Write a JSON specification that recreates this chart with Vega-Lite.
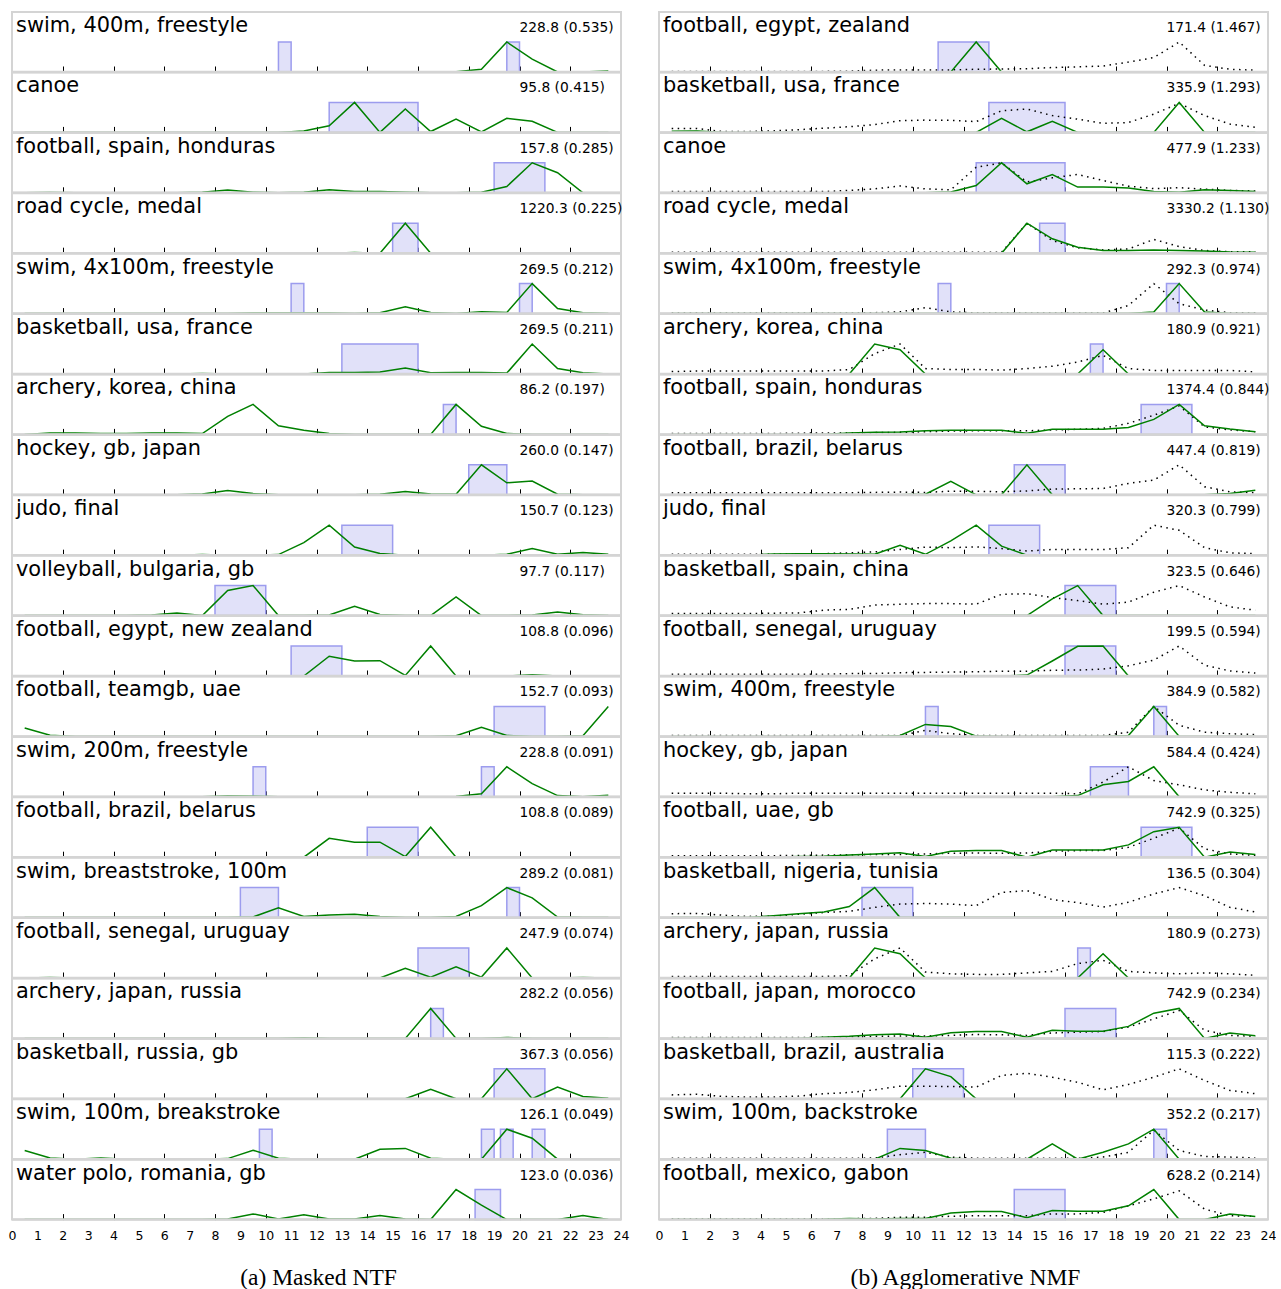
{
"$schema": "https://vega.github.io/schema/vega-lite/v6.json",
"padding": {"left": 8, "top": 11, "right": 0, "bottom": 0},
"config": {"view": {"stroke": "#d4d4d4", "strokeWidth": 2}, "concat": {"spacing": 26}, "axisX": {"labelOverlap": false, "labelFlush": false, "labelFont": "DejaVu Sans", "labelFontSize": 12.5, "labelColor": "black", "labelPadding": 6, "ticks": false, "domain": false, "gridColor": "black", "gridWidth": 1, "gridDash": [0, 54, 6, 0], "gridOpacity": 1}},
"datasets": {"all": [
{"m":"a","r":1,"t":"swim, 400m, freestyle","s":"228.8 (0.535)"},
{"m":"a","r":2,"t":"canoe","s":"95.8 (0.415)"},
{"m":"a","r":3,"t":"football, spain, honduras","s":"157.8 (0.285)"},
{"m":"a","r":4,"t":"road cycle, medal","s":"1220.3 (0.225)"},
{"m":"a","r":5,"t":"swim, 4x100m, freestyle","s":"269.5 (0.212)"},
{"m":"a","r":6,"t":"basketball, usa, france","s":"269.5 (0.211)"},
{"m":"a","r":7,"t":"archery, korea, china","s":"86.2 (0.197)"},
{"m":"a","r":8,"t":"hockey, gb, japan","s":"260.0 (0.147)"},
{"m":"a","r":9,"t":"judo, final","s":"150.7 (0.123)"},
{"m":"a","r":10,"t":"volleyball, bulgaria, gb","s":"97.7 (0.117)"},
{"m":"a","r":11,"t":"football, egypt, new zealand","s":"108.8 (0.096)"},
{"m":"a","r":12,"t":"football, teamgb, uae","s":"152.7 (0.093)"},
{"m":"a","r":13,"t":"swim, 200m, freestyle","s":"228.8 (0.091)"},
{"m":"a","r":14,"t":"football, brazil, belarus","s":"108.8 (0.089)"},
{"m":"a","r":15,"t":"swim, breaststroke, 100m","s":"289.2 (0.081)"},
{"m":"a","r":16,"t":"football, senegal, uruguay","s":"247.9 (0.074)"},
{"m":"a","r":17,"t":"archery, japan, russia","s":"282.2 (0.056)"},
{"m":"a","r":18,"t":"basketball, russia, gb","s":"367.3 (0.056)"},
{"m":"a","r":19,"t":"swim, 100m, breakstroke","s":"126.1 (0.049)"},
{"m":"a","r":20,"t":"water polo, romania, gb","s":"123.0 (0.036)"},
{"m":"b","r":1,"t":"football, egypt, zealand","s":"171.4 (1.467)"},
{"m":"b","r":2,"t":"basketball, usa, france","s":"335.9 (1.293)"},
{"m":"b","r":3,"t":"canoe","s":"477.9 (1.233)"},
{"m":"b","r":4,"t":"road cycle, medal","s":"3330.2 (1.130)"},
{"m":"b","r":5,"t":"swim, 4x100m, freestyle","s":"292.3 (0.974)"},
{"m":"b","r":6,"t":"archery, korea, china","s":"180.9 (0.921)"},
{"m":"b","r":7,"t":"football, spain, honduras","s":"1374.4 (0.844)"},
{"m":"b","r":8,"t":"football, brazil, belarus","s":"447.4 (0.819)"},
{"m":"b","r":9,"t":"judo, final","s":"320.3 (0.799)"},
{"m":"b","r":10,"t":"basketball, spain, china","s":"323.5 (0.646)"},
{"m":"b","r":11,"t":"football, senegal, uruguay","s":"199.5 (0.594)"},
{"m":"b","r":12,"t":"swim, 400m, freestyle","s":"384.9 (0.582)"},
{"m":"b","r":13,"t":"hockey, gb, japan","s":"584.4 (0.424)"},
{"m":"b","r":14,"t":"football, uae, gb","s":"742.9 (0.325)"},
{"m":"b","r":15,"t":"basketball, nigeria, tunisia","s":"136.5 (0.304)"},
{"m":"b","r":16,"t":"archery, japan, russia","s":"180.9 (0.273)"},
{"m":"b","r":17,"t":"football, japan, morocco","s":"742.9 (0.234)"},
{"m":"b","r":18,"t":"basketball, brazil, australia","s":"115.3 (0.222)"},
{"m":"b","r":19,"t":"swim, 100m, backstroke","s":"352.2 (0.217)"},
{"m":"b","r":20,"t":"football, mexico, gabon","s":"628.2 (0.214)"},
{"m":"a","r":1,"x0":10.5,"x1":11},{"m":"a","r":1,"x0":19.5,"x1":20},
{"m":"a","r":2,"x0":12.5,"x1":16},
{"m":"a","r":3,"x0":19,"x1":21},
{"m":"a","r":4,"x0":15,"x1":16},
{"m":"a","r":5,"x0":11,"x1":11.5},{"m":"a","r":5,"x0":20,"x1":20.5},
{"m":"a","r":6,"x0":13,"x1":16},
{"m":"a","r":7,"x0":17,"x1":17.5},
{"m":"a","r":8,"x0":18,"x1":19.5},
{"m":"a","r":9,"x0":13,"x1":15},
{"m":"a","r":10,"x0":8,"x1":10},
{"m":"a","r":11,"x0":11,"x1":13},
{"m":"a","r":12,"x0":19,"x1":21},
{"m":"a","r":13,"x0":9.5,"x1":10},{"m":"a","r":13,"x0":18.5,"x1":19},
{"m":"a","r":14,"x0":14,"x1":16},
{"m":"a","r":15,"x0":9,"x1":10.5},{"m":"a","r":15,"x0":19.5,"x1":20},
{"m":"a","r":16,"x0":16,"x1":18},
{"m":"a","r":17,"x0":16.5,"x1":17},
{"m":"a","r":18,"x0":19,"x1":21},
{"m":"a","r":19,"x0":9.75,"x1":10.25},{"m":"a","r":19,"x0":18.5,"x1":19},{"m":"a","r":19,"x0":19.25,"x1":19.75},{"m":"a","r":19,"x0":20.5,"x1":21},
{"m":"a","r":20,"x0":18.25,"x1":19.25},
{"m":"b","r":1,"x0":11,"x1":13},
{"m":"b","r":2,"x0":13,"x1":16},
{"m":"b","r":3,"x0":12.5,"x1":16},
{"m":"b","r":4,"x0":15,"x1":16},
{"m":"b","r":5,"x0":11,"x1":11.5},{"m":"b","r":5,"x0":20,"x1":20.5},
{"m":"b","r":6,"x0":17,"x1":17.5},
{"m":"b","r":7,"x0":19,"x1":21},
{"m":"b","r":8,"x0":14,"x1":16},
{"m":"b","r":9,"x0":13,"x1":15},
{"m":"b","r":10,"x0":16,"x1":18},
{"m":"b","r":11,"x0":16,"x1":18},
{"m":"b","r":12,"x0":10.5,"x1":11},{"m":"b","r":12,"x0":19.5,"x1":20},
{"m":"b","r":13,"x0":17,"x1":18.5},
{"m":"b","r":14,"x0":19,"x1":21},
{"m":"b","r":15,"x0":8,"x1":10},
{"m":"b","r":16,"x0":16.5,"x1":17},
{"m":"b","r":17,"x0":16,"x1":18},
{"m":"b","r":18,"x0":10,"x1":12},
{"m":"b","r":19,"x0":9,"x1":10.5},{"m":"b","r":19,"x0":19.5,"x1":20},
{"m":"b","r":20,"x0":14,"x1":16},
{"m":"a","r":1,"h":0.5,"g":0},{"m":"a","r":1,"h":1.5,"g":0},{"m":"a","r":1,"h":2.5,"g":0},{"m":"a","r":1,"h":3.5,"g":0},{"m":"a","r":1,"h":4.5,"g":0},{"m":"a","r":1,"h":5.5,"g":0},{"m":"a","r":1,"h":6.5,"g":0},{"m":"a","r":1,"h":7.5,"g":0},{"m":"a","r":1,"h":8.5,"g":0.01},{"m":"a","r":1,"h":9.5,"g":0.01},{"m":"a","r":1,"h":10.5,"g":0},{"m":"a","r":1,"h":11.5,"g":0},{"m":"a","r":1,"h":12.5,"g":0},{"m":"a","r":1,"h":13.5,"g":0},{"m":"a","r":1,"h":14.5,"g":0},{"m":"a","r":1,"h":15.5,"g":0},{"m":"a","r":1,"h":16.5,"g":0},{"m":"a","r":1,"h":17.5,"g":0.01},{"m":"a","r":1,"h":18.5,"g":0.09},{"m":"a","r":1,"h":19.5,"g":1},{"m":"a","r":1,"h":20.5,"g":0.43},{"m":"a","r":1,"h":21.5,"g":0},{"m":"a","r":1,"h":22.5,"g":0},{"m":"a","r":1,"h":23.5,"g":0.03},
{"m":"a","r":2,"h":0.5,"g":0},{"m":"a","r":2,"h":1.5,"g":0},{"m":"a","r":2,"h":2.5,"g":0},{"m":"a","r":2,"h":3.5,"g":0},{"m":"a","r":2,"h":4.5,"g":0},{"m":"a","r":2,"h":5.5,"g":0},{"m":"a","r":2,"h":6.5,"g":0},{"m":"a","r":2,"h":7.5,"g":0},{"m":"a","r":2,"h":8.5,"g":0},{"m":"a","r":2,"h":9.5,"g":0},{"m":"a","r":2,"h":10.5,"g":0},{"m":"a","r":2,"h":11.5,"g":0.05},{"m":"a","r":2,"h":12.5,"g":0.22},{"m":"a","r":2,"h":13.5,"g":1},{"m":"a","r":2,"h":14.5,"g":0},{"m":"a","r":2,"h":15.5,"g":0.78},{"m":"a","r":2,"h":16.5,"g":0.03},{"m":"a","r":2,"h":17.5,"g":0.44},{"m":"a","r":2,"h":18.5,"g":0.02},{"m":"a","r":2,"h":19.5,"g":0.47},{"m":"a","r":2,"h":20.5,"g":0.37},{"m":"a","r":2,"h":21.5,"g":0},{"m":"a","r":2,"h":22.5,"g":0},{"m":"a","r":2,"h":23.5,"g":0},
{"m":"a","r":3,"h":0.5,"g":0},{"m":"a","r":3,"h":1.5,"g":0.01},{"m":"a","r":3,"h":2.5,"g":0},{"m":"a","r":3,"h":3.5,"g":0},{"m":"a","r":3,"h":4.5,"g":0},{"m":"a","r":3,"h":5.5,"g":0},{"m":"a","r":3,"h":6.5,"g":0},{"m":"a","r":3,"h":7.5,"g":0.02},{"m":"a","r":3,"h":8.5,"g":0.09},{"m":"a","r":3,"h":9.5,"g":0.02},{"m":"a","r":3,"h":10.5,"g":0},{"m":"a","r":3,"h":11.5,"g":0.02},{"m":"a","r":3,"h":12.5,"g":0.1},{"m":"a","r":3,"h":13.5,"g":0.04},{"m":"a","r":3,"h":14.5,"g":0.04},{"m":"a","r":3,"h":15.5,"g":0.02},{"m":"a","r":3,"h":16.5,"g":0},{"m":"a","r":3,"h":17.5,"g":0},{"m":"a","r":3,"h":18.5,"g":0.02},{"m":"a","r":3,"h":19.5,"g":0.21},{"m":"a","r":3,"h":20.5,"g":1},{"m":"a","r":3,"h":21.5,"g":0.67},{"m":"a","r":3,"h":22.5,"g":0},{"m":"a","r":3,"h":23.5,"g":0},
{"m":"a","r":4,"h":0.5,"g":0},{"m":"a","r":4,"h":1.5,"g":0},{"m":"a","r":4,"h":2.5,"g":0},{"m":"a","r":4,"h":3.5,"g":0},{"m":"a","r":4,"h":4.5,"g":0},{"m":"a","r":4,"h":5.5,"g":0},{"m":"a","r":4,"h":6.5,"g":0},{"m":"a","r":4,"h":7.5,"g":0},{"m":"a","r":4,"h":8.5,"g":0},{"m":"a","r":4,"h":9.5,"g":0},{"m":"a","r":4,"h":10.5,"g":0},{"m":"a","r":4,"h":11.5,"g":0},{"m":"a","r":4,"h":12.5,"g":0},{"m":"a","r":4,"h":13.5,"g":0.02},{"m":"a","r":4,"h":14.5,"g":0},{"m":"a","r":4,"h":15.5,"g":1},{"m":"a","r":4,"h":16.5,"g":0},{"m":"a","r":4,"h":17.5,"g":0},{"m":"a","r":4,"h":18.5,"g":0},{"m":"a","r":4,"h":19.5,"g":0},{"m":"a","r":4,"h":20.5,"g":0},{"m":"a","r":4,"h":21.5,"g":0},{"m":"a","r":4,"h":22.5,"g":0},{"m":"a","r":4,"h":23.5,"g":0},
{"m":"a","r":5,"h":0.5,"g":0},{"m":"a","r":5,"h":1.5,"g":0},{"m":"a","r":5,"h":2.5,"g":0},{"m":"a","r":5,"h":3.5,"g":0},{"m":"a","r":5,"h":4.5,"g":0},{"m":"a","r":5,"h":5.5,"g":0},{"m":"a","r":5,"h":6.5,"g":0},{"m":"a","r":5,"h":7.5,"g":0},{"m":"a","r":5,"h":8.5,"g":0},{"m":"a","r":5,"h":9.5,"g":0.02},{"m":"a","r":5,"h":10.5,"g":0.02},{"m":"a","r":5,"h":11.5,"g":0.02},{"m":"a","r":5,"h":12.5,"g":0.02},{"m":"a","r":5,"h":13.5,"g":0},{"m":"a","r":5,"h":14.5,"g":0.03},{"m":"a","r":5,"h":15.5,"g":0.23},{"m":"a","r":5,"h":16.5,"g":0.04},{"m":"a","r":5,"h":17.5,"g":0},{"m":"a","r":5,"h":18.5,"g":0.06},{"m":"a","r":5,"h":19.5,"g":0.04},{"m":"a","r":5,"h":20.5,"g":1},{"m":"a","r":5,"h":21.5,"g":0.17},{"m":"a","r":5,"h":22.5,"g":0.03},{"m":"a","r":5,"h":23.5,"g":0},
{"m":"a","r":6,"h":0.5,"g":0},{"m":"a","r":6,"h":1.5,"g":0},{"m":"a","r":6,"h":2.5,"g":0},{"m":"a","r":6,"h":3.5,"g":0},{"m":"a","r":6,"h":4.5,"g":0},{"m":"a","r":6,"h":5.5,"g":0},{"m":"a","r":6,"h":6.5,"g":0},{"m":"a","r":6,"h":7.5,"g":0.02},{"m":"a","r":6,"h":8.5,"g":0},{"m":"a","r":6,"h":9.5,"g":0},{"m":"a","r":6,"h":10.5,"g":0},{"m":"a","r":6,"h":11.5,"g":0},{"m":"a","r":6,"h":12.5,"g":0.05},{"m":"a","r":6,"h":13.5,"g":0.05},{"m":"a","r":6,"h":14.5,"g":0.07},{"m":"a","r":6,"h":15.5,"g":0.2},{"m":"a","r":6,"h":16.5,"g":0.04},{"m":"a","r":6,"h":17.5,"g":0.05},{"m":"a","r":6,"h":18.5,"g":0.05},{"m":"a","r":6,"h":19.5,"g":0.03},{"m":"a","r":6,"h":20.5,"g":1},{"m":"a","r":6,"h":21.5,"g":0.18},{"m":"a","r":6,"h":22.5,"g":0.04},{"m":"a","r":6,"h":23.5,"g":0},
{"m":"a","r":7,"h":0.5,"g":0},{"m":"a","r":7,"h":1.5,"g":0.05},{"m":"a","r":7,"h":2.5,"g":0.05},{"m":"a","r":7,"h":3.5,"g":0.03},{"m":"a","r":7,"h":4.5,"g":0.03},{"m":"a","r":7,"h":5.5,"g":0.05},{"m":"a","r":7,"h":6.5,"g":0.05},{"m":"a","r":7,"h":7.5,"g":0.03},{"m":"a","r":7,"h":8.5,"g":0.6},{"m":"a","r":7,"h":9.5,"g":1},{"m":"a","r":7,"h":10.5,"g":0.29},{"m":"a","r":7,"h":11.5,"g":0.14},{"m":"a","r":7,"h":12.5,"g":0.03},{"m":"a","r":7,"h":13.5,"g":0},{"m":"a","r":7,"h":14.5,"g":0},{"m":"a","r":7,"h":15.5,"g":0},{"m":"a","r":7,"h":16.5,"g":0},{"m":"a","r":7,"h":17.5,"g":1},{"m":"a","r":7,"h":18.5,"g":0.27},{"m":"a","r":7,"h":19.5,"g":0.03},{"m":"a","r":7,"h":20.5,"g":0},{"m":"a","r":7,"h":21.5,"g":0},{"m":"a","r":7,"h":22.5,"g":0},{"m":"a","r":7,"h":23.5,"g":0},
{"m":"a","r":8,"h":0.5,"g":0},{"m":"a","r":8,"h":1.5,"g":0},{"m":"a","r":8,"h":2.5,"g":0},{"m":"a","r":8,"h":3.5,"g":0},{"m":"a","r":8,"h":4.5,"g":0},{"m":"a","r":8,"h":5.5,"g":0},{"m":"a","r":8,"h":6.5,"g":0},{"m":"a","r":8,"h":7.5,"g":0.03},{"m":"a","r":8,"h":8.5,"g":0.14},{"m":"a","r":8,"h":9.5,"g":0.04},{"m":"a","r":8,"h":10.5,"g":0},{"m":"a","r":8,"h":11.5,"g":0},{"m":"a","r":8,"h":12.5,"g":0},{"m":"a","r":8,"h":13.5,"g":0},{"m":"a","r":8,"h":14.5,"g":0.02},{"m":"a","r":8,"h":15.5,"g":0.11},{"m":"a","r":8,"h":16.5,"g":0.03},{"m":"a","r":8,"h":17.5,"g":0.02},{"m":"a","r":8,"h":18.5,"g":1},{"m":"a","r":8,"h":19.5,"g":0.4},{"m":"a","r":8,"h":20.5,"g":0.46},{"m":"a","r":8,"h":21.5,"g":0.02},{"m":"a","r":8,"h":22.5,"g":0},{"m":"a","r":8,"h":23.5,"g":0},
{"m":"a","r":9,"h":0.5,"g":0},{"m":"a","r":9,"h":1.5,"g":0},{"m":"a","r":9,"h":2.5,"g":0},{"m":"a","r":9,"h":3.5,"g":0},{"m":"a","r":9,"h":4.5,"g":0},{"m":"a","r":9,"h":5.5,"g":0},{"m":"a","r":9,"h":6.5,"g":0},{"m":"a","r":9,"h":7.5,"g":0.02},{"m":"a","r":9,"h":8.5,"g":0},{"m":"a","r":9,"h":9.5,"g":0},{"m":"a","r":9,"h":10.5,"g":0.02},{"m":"a","r":9,"h":11.5,"g":0.42},{"m":"a","r":9,"h":12.5,"g":1},{"m":"a","r":9,"h":13.5,"g":0.27},{"m":"a","r":9,"h":14.5,"g":0.06},{"m":"a","r":9,"h":15.5,"g":0},{"m":"a","r":9,"h":16.5,"g":0},{"m":"a","r":9,"h":17.5,"g":0},{"m":"a","r":9,"h":18.5,"g":0},{"m":"a","r":9,"h":19.5,"g":0.03},{"m":"a","r":9,"h":20.5,"g":0.22},{"m":"a","r":9,"h":21.5,"g":0.03},{"m":"a","r":9,"h":22.5,"g":0.09},{"m":"a","r":9,"h":23.5,"g":0.03},
{"m":"a","r":10,"h":0.5,"g":0},{"m":"a","r":10,"h":1.5,"g":0},{"m":"a","r":10,"h":2.5,"g":0},{"m":"a","r":10,"h":3.5,"g":0},{"m":"a","r":10,"h":4.5,"g":0},{"m":"a","r":10,"h":5.5,"g":0.02},{"m":"a","r":10,"h":6.5,"g":0.09},{"m":"a","r":10,"h":7.5,"g":0},{"m":"a","r":10,"h":8.5,"g":0.84},{"m":"a","r":10,"h":9.5,"g":1},{"m":"a","r":10,"h":10.5,"g":0},{"m":"a","r":10,"h":11.5,"g":0},{"m":"a","r":10,"h":12.5,"g":0.02},{"m":"a","r":10,"h":13.5,"g":0.31},{"m":"a","r":10,"h":14.5,"g":0.04},{"m":"a","r":10,"h":15.5,"g":0},{"m":"a","r":10,"h":16.5,"g":0},{"m":"a","r":10,"h":17.5,"g":0.62},{"m":"a","r":10,"h":18.5,"g":0},{"m":"a","r":10,"h":19.5,"g":0},{"m":"a","r":10,"h":20.5,"g":0.02},{"m":"a","r":10,"h":21.5,"g":0.12},{"m":"a","r":10,"h":22.5,"g":0.03},{"m":"a","r":10,"h":23.5,"g":0},
{"m":"a","r":11,"h":0.5,"g":0},{"m":"a","r":11,"h":1.5,"g":0},{"m":"a","r":11,"h":2.5,"g":0},{"m":"a","r":11,"h":3.5,"g":0},{"m":"a","r":11,"h":4.5,"g":0},{"m":"a","r":11,"h":5.5,"g":0},{"m":"a","r":11,"h":6.5,"g":0},{"m":"a","r":11,"h":7.5,"g":0},{"m":"a","r":11,"h":8.5,"g":0},{"m":"a","r":11,"h":9.5,"g":0},{"m":"a","r":11,"h":10.5,"g":0},{"m":"a","r":11,"h":11.5,"g":0},{"m":"a","r":11,"h":12.5,"g":0.66},{"m":"a","r":11,"h":13.5,"g":0.5},{"m":"a","r":11,"h":14.5,"g":0.51},{"m":"a","r":11,"h":15.5,"g":0.02},{"m":"a","r":11,"h":16.5,"g":1},{"m":"a","r":11,"h":17.5,"g":0},{"m":"a","r":11,"h":18.5,"g":0},{"m":"a","r":11,"h":19.5,"g":0},{"m":"a","r":11,"h":20.5,"g":0.04},{"m":"a","r":11,"h":21.5,"g":0},{"m":"a","r":11,"h":22.5,"g":0},{"m":"a","r":11,"h":23.5,"g":0},
{"m":"a","r":12,"h":0.5,"g":0.28},{"m":"a","r":12,"h":1.5,"g":0.04},{"m":"a","r":12,"h":2.5,"g":0},{"m":"a","r":12,"h":3.5,"g":0},{"m":"a","r":12,"h":4.5,"g":0},{"m":"a","r":12,"h":5.5,"g":0},{"m":"a","r":12,"h":6.5,"g":0},{"m":"a","r":12,"h":7.5,"g":0},{"m":"a","r":12,"h":8.5,"g":0},{"m":"a","r":12,"h":9.5,"g":0},{"m":"a","r":12,"h":10.5,"g":0},{"m":"a","r":12,"h":11.5,"g":0},{"m":"a","r":12,"h":12.5,"g":0},{"m":"a","r":12,"h":13.5,"g":0},{"m":"a","r":12,"h":14.5,"g":0},{"m":"a","r":12,"h":15.5,"g":0},{"m":"a","r":12,"h":16.5,"g":0},{"m":"a","r":12,"h":17.5,"g":0.02},{"m":"a","r":12,"h":18.5,"g":0.3},{"m":"a","r":12,"h":19.5,"g":0.03},{"m":"a","r":12,"h":20.5,"g":0},{"m":"a","r":12,"h":21.5,"g":0},{"m":"a","r":12,"h":22.5,"g":0.02},{"m":"a","r":12,"h":23.5,"g":1},
{"m":"a","r":13,"h":0.5,"g":0},{"m":"a","r":13,"h":1.5,"g":0},{"m":"a","r":13,"h":2.5,"g":0},{"m":"a","r":13,"h":3.5,"g":0},{"m":"a","r":13,"h":4.5,"g":0},{"m":"a","r":13,"h":5.5,"g":0},{"m":"a","r":13,"h":6.5,"g":0},{"m":"a","r":13,"h":7.5,"g":0},{"m":"a","r":13,"h":8.5,"g":0.03},{"m":"a","r":13,"h":9.5,"g":0.02},{"m":"a","r":13,"h":10.5,"g":0},{"m":"a","r":13,"h":11.5,"g":0},{"m":"a","r":13,"h":12.5,"g":0},{"m":"a","r":13,"h":13.5,"g":0},{"m":"a","r":13,"h":14.5,"g":0},{"m":"a","r":13,"h":15.5,"g":0},{"m":"a","r":13,"h":16.5,"g":0},{"m":"a","r":13,"h":17.5,"g":0.01},{"m":"a","r":13,"h":18.5,"g":0.1},{"m":"a","r":13,"h":19.5,"g":1},{"m":"a","r":13,"h":20.5,"g":0.44},{"m":"a","r":13,"h":21.5,"g":0.04},{"m":"a","r":13,"h":22.5,"g":0},{"m":"a","r":13,"h":23.5,"g":0.05},
{"m":"a","r":14,"h":0.5,"g":0},{"m":"a","r":14,"h":1.5,"g":0},{"m":"a","r":14,"h":2.5,"g":0},{"m":"a","r":14,"h":3.5,"g":0},{"m":"a","r":14,"h":4.5,"g":0},{"m":"a","r":14,"h":5.5,"g":0},{"m":"a","r":14,"h":6.5,"g":0},{"m":"a","r":14,"h":7.5,"g":0},{"m":"a","r":14,"h":8.5,"g":0},{"m":"a","r":14,"h":9.5,"g":0},{"m":"a","r":14,"h":10.5,"g":0},{"m":"a","r":14,"h":11.5,"g":0},{"m":"a","r":14,"h":12.5,"g":0.63},{"m":"a","r":14,"h":13.5,"g":0.5},{"m":"a","r":14,"h":14.5,"g":0.5},{"m":"a","r":14,"h":15.5,"g":0.02},{"m":"a","r":14,"h":16.5,"g":1},{"m":"a","r":14,"h":17.5,"g":0},{"m":"a","r":14,"h":18.5,"g":0},{"m":"a","r":14,"h":19.5,"g":0},{"m":"a","r":14,"h":20.5,"g":0},{"m":"a","r":14,"h":21.5,"g":0},{"m":"a","r":14,"h":22.5,"g":0},{"m":"a","r":14,"h":23.5,"g":0},
{"m":"a","r":15,"h":0.5,"g":0},{"m":"a","r":15,"h":1.5,"g":0},{"m":"a","r":15,"h":2.5,"g":0},{"m":"a","r":15,"h":3.5,"g":0},{"m":"a","r":15,"h":4.5,"g":0},{"m":"a","r":15,"h":5.5,"g":0},{"m":"a","r":15,"h":6.5,"g":0},{"m":"a","r":15,"h":7.5,"g":0},{"m":"a","r":15,"h":8.5,"g":0},{"m":"a","r":15,"h":9.5,"g":0.02},{"m":"a","r":15,"h":10.5,"g":0.33},{"m":"a","r":15,"h":11.5,"g":0.04},{"m":"a","r":15,"h":12.5,"g":0.09},{"m":"a","r":15,"h":13.5,"g":0.11},{"m":"a","r":15,"h":14.5,"g":0.04},{"m":"a","r":15,"h":15.5,"g":0},{"m":"a","r":15,"h":16.5,"g":0},{"m":"a","r":15,"h":17.5,"g":0.04},{"m":"a","r":15,"h":18.5,"g":0.4},{"m":"a","r":15,"h":19.5,"g":1},{"m":"a","r":15,"h":20.5,"g":0.66},{"m":"a","r":15,"h":21.5,"g":0.02},{"m":"a","r":15,"h":22.5,"g":0},{"m":"a","r":15,"h":23.5,"g":0},
{"m":"a","r":16,"h":0.5,"g":0},{"m":"a","r":16,"h":1.5,"g":0.02},{"m":"a","r":16,"h":2.5,"g":0},{"m":"a","r":16,"h":3.5,"g":0},{"m":"a","r":16,"h":4.5,"g":0},{"m":"a","r":16,"h":5.5,"g":0},{"m":"a","r":16,"h":6.5,"g":0},{"m":"a","r":16,"h":7.5,"g":0},{"m":"a","r":16,"h":8.5,"g":0},{"m":"a","r":16,"h":9.5,"g":0},{"m":"a","r":16,"h":10.5,"g":0},{"m":"a","r":16,"h":11.5,"g":0},{"m":"a","r":16,"h":12.5,"g":0},{"m":"a","r":16,"h":13.5,"g":0},{"m":"a","r":16,"h":14.5,"g":0},{"m":"a","r":16,"h":15.5,"g":0.32},{"m":"a","r":16,"h":16.5,"g":0.03},{"m":"a","r":16,"h":17.5,"g":0.37},{"m":"a","r":16,"h":18.5,"g":0.03},{"m":"a","r":16,"h":19.5,"g":1},{"m":"a","r":16,"h":20.5,"g":0},{"m":"a","r":16,"h":21.5,"g":0},{"m":"a","r":16,"h":22.5,"g":0.02},{"m":"a","r":16,"h":23.5,"g":0},
{"m":"a","r":17,"h":0.5,"g":0},{"m":"a","r":17,"h":1.5,"g":0},{"m":"a","r":17,"h":2.5,"g":0},{"m":"a","r":17,"h":3.5,"g":0},{"m":"a","r":17,"h":4.5,"g":0},{"m":"a","r":17,"h":5.5,"g":0},{"m":"a","r":17,"h":6.5,"g":0},{"m":"a","r":17,"h":7.5,"g":0},{"m":"a","r":17,"h":8.5,"g":0},{"m":"a","r":17,"h":9.5,"g":0},{"m":"a","r":17,"h":10.5,"g":0},{"m":"a","r":17,"h":11.5,"g":0.02},{"m":"a","r":17,"h":12.5,"g":0},{"m":"a","r":17,"h":13.5,"g":0},{"m":"a","r":17,"h":14.5,"g":0},{"m":"a","r":17,"h":15.5,"g":0},{"m":"a","r":17,"h":16.5,"g":1},{"m":"a","r":17,"h":17.5,"g":0},{"m":"a","r":17,"h":18.5,"g":0},{"m":"a","r":17,"h":19.5,"g":0.03},{"m":"a","r":17,"h":20.5,"g":0},{"m":"a","r":17,"h":21.5,"g":0},{"m":"a","r":17,"h":22.5,"g":0},{"m":"a","r":17,"h":23.5,"g":0},
{"m":"a","r":18,"h":0.5,"g":0},{"m":"a","r":18,"h":1.5,"g":0},{"m":"a","r":18,"h":2.5,"g":0},{"m":"a","r":18,"h":3.5,"g":0},{"m":"a","r":18,"h":4.5,"g":0},{"m":"a","r":18,"h":5.5,"g":0},{"m":"a","r":18,"h":6.5,"g":0},{"m":"a","r":18,"h":7.5,"g":0},{"m":"a","r":18,"h":8.5,"g":0},{"m":"a","r":18,"h":9.5,"g":0},{"m":"a","r":18,"h":10.5,"g":0},{"m":"a","r":18,"h":11.5,"g":0},{"m":"a","r":18,"h":12.5,"g":0},{"m":"a","r":18,"h":13.5,"g":0},{"m":"a","r":18,"h":14.5,"g":0},{"m":"a","r":18,"h":15.5,"g":0},{"m":"a","r":18,"h":16.5,"g":0.32},{"m":"a","r":18,"h":17.5,"g":0},{"m":"a","r":18,"h":18.5,"g":0},{"m":"a","r":18,"h":19.5,"g":1},{"m":"a","r":18,"h":20.5,"g":0},{"m":"a","r":18,"h":21.5,"g":0.39},{"m":"a","r":18,"h":22.5,"g":0.08},{"m":"a","r":18,"h":23.5,"g":0.02},
{"m":"a","r":19,"h":0.5,"g":0.29},{"m":"a","r":19,"h":1.5,"g":0.04},{"m":"a","r":19,"h":2.5,"g":0},{"m":"a","r":19,"h":3.5,"g":0.04},{"m":"a","r":19,"h":4.5,"g":0},{"m":"a","r":19,"h":5.5,"g":0},{"m":"a","r":19,"h":6.5,"g":0},{"m":"a","r":19,"h":7.5,"g":0},{"m":"a","r":19,"h":8.5,"g":0.02},{"m":"a","r":19,"h":9.5,"g":0.3},{"m":"a","r":19,"h":10.5,"g":0.03},{"m":"a","r":19,"h":11.5,"g":0},{"m":"a","r":19,"h":12.5,"g":0},{"m":"a","r":19,"h":13.5,"g":0},{"m":"a","r":19,"h":14.5,"g":0.33},{"m":"a","r":19,"h":15.5,"g":0.36},{"m":"a","r":19,"h":16.5,"g":0.03},{"m":"a","r":19,"h":17.5,"g":0},{"m":"a","r":19,"h":18.5,"g":0},{"m":"a","r":19,"h":19.5,"g":1},{"m":"a","r":19,"h":20.5,"g":0.7},{"m":"a","r":19,"h":21.5,"g":0},{"m":"a","r":19,"h":22.5,"g":0},{"m":"a","r":19,"h":23.5,"g":0},
{"m":"a","r":20,"h":0.5,"g":0},{"m":"a","r":20,"h":1.5,"g":0},{"m":"a","r":20,"h":2.5,"g":0},{"m":"a","r":20,"h":3.5,"g":0},{"m":"a","r":20,"h":4.5,"g":0},{"m":"a","r":20,"h":5.5,"g":0},{"m":"a","r":20,"h":6.5,"g":0},{"m":"a","r":20,"h":7.5,"g":0},{"m":"a","r":20,"h":8.5,"g":0.02},{"m":"a","r":20,"h":9.5,"g":0.19},{"m":"a","r":20,"h":10.5,"g":0.02},{"m":"a","r":20,"h":11.5,"g":0.16},{"m":"a","r":20,"h":12.5,"g":0.02},{"m":"a","r":20,"h":13.5,"g":0.02},{"m":"a","r":20,"h":14.5,"g":0.14},{"m":"a","r":20,"h":15.5,"g":0.02},{"m":"a","r":20,"h":16.5,"g":0},{"m":"a","r":20,"h":17.5,"g":1},{"m":"a","r":20,"h":18.5,"g":0.48},{"m":"a","r":20,"h":19.5,"g":0},{"m":"a","r":20,"h":20.5,"g":0},{"m":"a","r":20,"h":21.5,"g":0},{"m":"a","r":20,"h":22.5,"g":0.14},{"m":"a","r":20,"h":23.5,"g":0},
{"m":"b","r":1,"h":0.5,"g":0,"d":0.02},{"m":"b","r":1,"h":1.5,"g":0,"d":0.02},{"m":"b","r":1,"h":2.5,"g":0,"d":0.02},{"m":"b","r":1,"h":3.5,"g":0,"d":0.02},{"m":"b","r":1,"h":4.5,"g":0,"d":0.02},{"m":"b","r":1,"h":5.5,"g":0,"d":0.02},{"m":"b","r":1,"h":6.5,"g":0,"d":0.02},{"m":"b","r":1,"h":7.5,"g":0,"d":0.03},{"m":"b","r":1,"h":8.5,"g":0,"d":0.06},{"m":"b","r":1,"h":9.5,"g":0,"d":0.07},{"m":"b","r":1,"h":10.5,"g":0,"d":0.07},{"m":"b","r":1,"h":11.5,"g":0,"d":0.07},{"m":"b","r":1,"h":12.5,"g":1,"d":0.09},{"m":"b","r":1,"h":13.5,"g":0,"d":0.1},{"m":"b","r":1,"h":14.5,"g":0,"d":0.11},{"m":"b","r":1,"h":15.5,"g":0,"d":0.15},{"m":"b","r":1,"h":16.5,"g":0,"d":0.17},{"m":"b","r":1,"h":17.5,"g":0,"d":0.2},{"m":"b","r":1,"h":18.5,"g":0,"d":0.33},{"m":"b","r":1,"h":19.5,"g":0,"d":0.48},{"m":"b","r":1,"h":20.5,"g":0,"d":1},{"m":"b","r":1,"h":21.5,"g":0,"d":0.22},{"m":"b","r":1,"h":22.5,"g":0,"d":0.09},{"m":"b","r":1,"h":23.5,"g":0,"d":0.06},
{"m":"b","r":2,"h":0.5,"g":0.04,"d":0.13},{"m":"b","r":2,"h":1.5,"g":0.05,"d":0.13},{"m":"b","r":2,"h":2.5,"g":0,"d":0.03},{"m":"b","r":2,"h":3.5,"g":0,"d":0.03},{"m":"b","r":2,"h":4.5,"g":0,"d":0.05},{"m":"b","r":2,"h":5.5,"g":0,"d":0.09},{"m":"b","r":2,"h":6.5,"g":0,"d":0.14},{"m":"b","r":2,"h":7.5,"g":0,"d":0.19},{"m":"b","r":2,"h":8.5,"g":0,"d":0.26},{"m":"b","r":2,"h":9.5,"g":0,"d":0.39},{"m":"b","r":2,"h":10.5,"g":0,"d":0.41},{"m":"b","r":2,"h":11.5,"g":0,"d":0.4},{"m":"b","r":2,"h":12.5,"g":0,"d":0.36},{"m":"b","r":2,"h":13.5,"g":0.47,"d":0.72},{"m":"b","r":2,"h":14.5,"g":0.02,"d":0.78},{"m":"b","r":2,"h":15.5,"g":0.37,"d":0.56},{"m":"b","r":2,"h":16.5,"g":0,"d":0.44},{"m":"b","r":2,"h":17.5,"g":0,"d":0.3},{"m":"b","r":2,"h":18.5,"g":0,"d":0.33},{"m":"b","r":2,"h":19.5,"g":0,"d":0.61},{"m":"b","r":2,"h":20.5,"g":1,"d":0.97},{"m":"b","r":2,"h":21.5,"g":0,"d":0.56},{"m":"b","r":2,"h":22.5,"g":0,"d":0.28},{"m":"b","r":2,"h":23.5,"g":0,"d":0.17},
{"m":"b","r":3,"h":0.5,"g":0,"d":0.04},{"m":"b","r":3,"h":1.5,"g":0,"d":0.04},{"m":"b","r":3,"h":2.5,"g":0,"d":0.04},{"m":"b","r":3,"h":3.5,"g":0,"d":0.04},{"m":"b","r":3,"h":4.5,"g":0,"d":0.04},{"m":"b","r":3,"h":5.5,"g":0,"d":0.04},{"m":"b","r":3,"h":6.5,"g":0,"d":0.04},{"m":"b","r":3,"h":7.5,"g":0,"d":0.08},{"m":"b","r":3,"h":8.5,"g":0,"d":0.13},{"m":"b","r":3,"h":9.5,"g":0,"d":0.23},{"m":"b","r":3,"h":10.5,"g":0,"d":0.13},{"m":"b","r":3,"h":11.5,"g":0.03,"d":0.1},{"m":"b","r":3,"h":12.5,"g":0.24,"d":0.85},{"m":"b","r":3,"h":13.5,"g":1,"d":1},{"m":"b","r":3,"h":14.5,"g":0.3,"d":0.36},{"m":"b","r":3,"h":15.5,"g":0.61,"d":0.5},{"m":"b","r":3,"h":16.5,"g":0.19,"d":0.61},{"m":"b","r":3,"h":17.5,"g":0.19,"d":0.41},{"m":"b","r":3,"h":18.5,"g":0.16,"d":0.22},{"m":"b","r":3,"h":19.5,"g":0.04,"d":0.14},{"m":"b","r":3,"h":20.5,"g":0.02,"d":0.17},{"m":"b","r":3,"h":21.5,"g":0.1,"d":0.12},{"m":"b","r":3,"h":22.5,"g":0.08,"d":0.08},{"m":"b","r":3,"h":23.5,"g":0.04,"d":0.06},
{"m":"b","r":4,"h":0.5,"g":0,"d":0.03},{"m":"b","r":4,"h":1.5,"g":0,"d":0.03},{"m":"b","r":4,"h":2.5,"g":0,"d":0.03},{"m":"b","r":4,"h":3.5,"g":0,"d":0.03},{"m":"b","r":4,"h":4.5,"g":0,"d":0.03},{"m":"b","r":4,"h":5.5,"g":0,"d":0.03},{"m":"b","r":4,"h":6.5,"g":0,"d":0.03},{"m":"b","r":4,"h":7.5,"g":0,"d":0.03},{"m":"b","r":4,"h":8.5,"g":0,"d":0.03},{"m":"b","r":4,"h":9.5,"g":0,"d":0.03},{"m":"b","r":4,"h":10.5,"g":0,"d":0.03},{"m":"b","r":4,"h":11.5,"g":0,"d":0.03},{"m":"b","r":4,"h":12.5,"g":0,"d":0.03},{"m":"b","r":4,"h":13.5,"g":0,"d":0.03},{"m":"b","r":4,"h":14.5,"g":1,"d":1},{"m":"b","r":4,"h":15.5,"g":0.48,"d":0.42},{"m":"b","r":4,"h":16.5,"g":0.2,"d":0.18},{"m":"b","r":4,"h":17.5,"g":0.09,"d":0.11},{"m":"b","r":4,"h":18.5,"g":0.09,"d":0.14},{"m":"b","r":4,"h":19.5,"g":0.11,"d":0.46},{"m":"b","r":4,"h":20.5,"g":0.09,"d":0.22},{"m":"b","r":4,"h":21.5,"g":0.07,"d":0.09},{"m":"b","r":4,"h":22.5,"g":0.04,"d":0.05},{"m":"b","r":4,"h":23.5,"g":0.03,"d":0.05},
{"m":"b","r":5,"h":0.5,"g":0,"d":0.02},{"m":"b","r":5,"h":1.5,"g":0,"d":0.02},{"m":"b","r":5,"h":2.5,"g":0,"d":0.02},{"m":"b","r":5,"h":3.5,"g":0,"d":0.02},{"m":"b","r":5,"h":4.5,"g":0,"d":0.02},{"m":"b","r":5,"h":5.5,"g":0,"d":0.02},{"m":"b","r":5,"h":6.5,"g":0,"d":0.02},{"m":"b","r":5,"h":7.5,"g":0,"d":0.02},{"m":"b","r":5,"h":8.5,"g":0,"d":0.03},{"m":"b","r":5,"h":9.5,"g":0,"d":0.06},{"m":"b","r":5,"h":10.5,"g":0,"d":0.2},{"m":"b","r":5,"h":11.5,"g":0,"d":0.06},{"m":"b","r":5,"h":12.5,"g":0,"d":0.02},{"m":"b","r":5,"h":13.5,"g":0,"d":0.02},{"m":"b","r":5,"h":14.5,"g":0,"d":0.02},{"m":"b","r":5,"h":15.5,"g":0,"d":0.02},{"m":"b","r":5,"h":16.5,"g":0,"d":0.02},{"m":"b","r":5,"h":17.5,"g":0,"d":0.02},{"m":"b","r":5,"h":18.5,"g":0,"d":0.27},{"m":"b","r":5,"h":19.5,"g":0.05,"d":1},{"m":"b","r":5,"h":20.5,"g":1,"d":0.33},{"m":"b","r":5,"h":21.5,"g":0.05,"d":0.12},{"m":"b","r":5,"h":22.5,"g":0,"d":0.03},{"m":"b","r":5,"h":23.5,"g":0,"d":0.02},
{"m":"b","r":6,"h":0.5,"g":0,"d":0.08},{"m":"b","r":6,"h":1.5,"g":0,"d":0.1},{"m":"b","r":6,"h":2.5,"g":0,"d":0.1},{"m":"b","r":6,"h":3.5,"g":0,"d":0.1},{"m":"b","r":6,"h":4.5,"g":0,"d":0.1},{"m":"b","r":6,"h":5.5,"g":0,"d":0.1},{"m":"b","r":6,"h":6.5,"g":0,"d":0.1},{"m":"b","r":6,"h":7.5,"g":0,"d":0.15},{"m":"b","r":6,"h":8.5,"g":1,"d":0.68},{"m":"b","r":6,"h":9.5,"g":0.81,"d":1},{"m":"b","r":6,"h":10.5,"g":0,"d":0.18},{"m":"b","r":6,"h":11.5,"g":0,"d":0.15},{"m":"b","r":6,"h":12.5,"g":0,"d":0.15},{"m":"b","r":6,"h":13.5,"g":0,"d":0.13},{"m":"b","r":6,"h":14.5,"g":0,"d":0.18},{"m":"b","r":6,"h":15.5,"g":0,"d":0.26},{"m":"b","r":6,"h":16.5,"g":0,"d":0.4},{"m":"b","r":6,"h":17.5,"g":0.81,"d":0.62},{"m":"b","r":6,"h":18.5,"g":0,"d":0.18},{"m":"b","r":6,"h":19.5,"g":0,"d":0.12},{"m":"b","r":6,"h":20.5,"g":0,"d":0.12},{"m":"b","r":6,"h":21.5,"g":0,"d":0.12},{"m":"b","r":6,"h":22.5,"g":0,"d":0.12},{"m":"b","r":6,"h":23.5,"g":0,"d":0.07},
{"m":"b","r":7,"h":0.5,"g":0,"d":0.03},{"m":"b","r":7,"h":1.5,"g":0,"d":0.03},{"m":"b","r":7,"h":2.5,"g":0,"d":0.03},{"m":"b","r":7,"h":3.5,"g":0,"d":0.03},{"m":"b","r":7,"h":4.5,"g":0,"d":0.03},{"m":"b","r":7,"h":5.5,"g":0,"d":0.04},{"m":"b","r":7,"h":6.5,"g":0,"d":0.05},{"m":"b","r":7,"h":7.5,"g":0.05,"d":0.05},{"m":"b","r":7,"h":8.5,"g":0.07,"d":0.06},{"m":"b","r":7,"h":9.5,"g":0.08,"d":0.07},{"m":"b","r":7,"h":10.5,"g":0.12,"d":0.09},{"m":"b","r":7,"h":11.5,"g":0.14,"d":0.11},{"m":"b","r":7,"h":12.5,"g":0.14,"d":0.12},{"m":"b","r":7,"h":13.5,"g":0.14,"d":0.12},{"m":"b","r":7,"h":14.5,"g":0.04,"d":0.12},{"m":"b","r":7,"h":15.5,"g":0.17,"d":0.15},{"m":"b","r":7,"h":16.5,"g":0.17,"d":0.17},{"m":"b","r":7,"h":17.5,"g":0.17,"d":0.2},{"m":"b","r":7,"h":18.5,"g":0.23,"d":0.37},{"m":"b","r":7,"h":19.5,"g":0.5,"d":0.64},{"m":"b","r":7,"h":20.5,"g":1,"d":0.95},{"m":"b","r":7,"h":21.5,"g":0.29,"d":0.25},{"m":"b","r":7,"h":22.5,"g":0.18,"d":0.15},{"m":"b","r":7,"h":23.5,"g":0.09,"d":0.09},
{"m":"b","r":8,"h":0.5,"g":0,"d":0.07},{"m":"b","r":8,"h":1.5,"g":0,"d":0.07},{"m":"b","r":8,"h":2.5,"g":0,"d":0.07},{"m":"b","r":8,"h":3.5,"g":0,"d":0.07},{"m":"b","r":8,"h":4.5,"g":0,"d":0.07},{"m":"b","r":8,"h":5.5,"g":0,"d":0.07},{"m":"b","r":8,"h":6.5,"g":0,"d":0.07},{"m":"b","r":8,"h":7.5,"g":0,"d":0.07},{"m":"b","r":8,"h":8.5,"g":0,"d":0.08},{"m":"b","r":8,"h":9.5,"g":0,"d":0.09},{"m":"b","r":8,"h":10.5,"g":0.02,"d":0.08},{"m":"b","r":8,"h":11.5,"g":0.45,"d":0.12},{"m":"b","r":8,"h":12.5,"g":0,"d":0.12},{"m":"b","r":8,"h":13.5,"g":0,"d":0.1},{"m":"b","r":8,"h":14.5,"g":1,"d":0.13},{"m":"b","r":8,"h":15.5,"g":0,"d":0.19},{"m":"b","r":8,"h":16.5,"g":0,"d":0.2},{"m":"b","r":8,"h":17.5,"g":0,"d":0.21},{"m":"b","r":8,"h":18.5,"g":0,"d":0.38},{"m":"b","r":8,"h":19.5,"g":0,"d":0.49},{"m":"b","r":8,"h":20.5,"g":0,"d":1},{"m":"b","r":8,"h":21.5,"g":0,"d":0.27},{"m":"b","r":8,"h":22.5,"g":0.04,"d":0.1},{"m":"b","r":8,"h":23.5,"g":0.15,"d":0.07},
{"m":"b","r":9,"h":0.5,"g":0,"d":0.03},{"m":"b","r":9,"h":1.5,"g":0,"d":0.03},{"m":"b","r":9,"h":2.5,"g":0,"d":0.03},{"m":"b","r":9,"h":3.5,"g":0,"d":0.03},{"m":"b","r":9,"h":4.5,"g":0.04,"d":0.03},{"m":"b","r":9,"h":5.5,"g":0.05,"d":0.03},{"m":"b","r":9,"h":6.5,"g":0.05,"d":0.05},{"m":"b","r":9,"h":7.5,"g":0.04,"d":0.08},{"m":"b","r":9,"h":8.5,"g":0.03,"d":0.11},{"m":"b","r":9,"h":9.5,"g":0.33,"d":0.19},{"m":"b","r":9,"h":10.5,"g":0.03,"d":0.27},{"m":"b","r":9,"h":11.5,"g":0.48,"d":0.25},{"m":"b","r":9,"h":12.5,"g":1,"d":0.28},{"m":"b","r":9,"h":13.5,"g":0.3,"d":0.22},{"m":"b","r":9,"h":14.5,"g":0,"d":0.14},{"m":"b","r":9,"h":15.5,"g":0,"d":0.19},{"m":"b","r":9,"h":16.5,"g":0,"d":0.19},{"m":"b","r":9,"h":17.5,"g":0,"d":0.19},{"m":"b","r":9,"h":18.5,"g":0,"d":0.25},{"m":"b","r":9,"h":19.5,"g":0,"d":1},{"m":"b","r":9,"h":20.5,"g":0,"d":0.83},{"m":"b","r":9,"h":21.5,"g":0,"d":0.25},{"m":"b","r":9,"h":22.5,"g":0,"d":0.08},{"m":"b","r":9,"h":23.5,"g":0,"d":0.05},
{"m":"b","r":10,"h":0.5,"g":0,"d":0.07},{"m":"b","r":10,"h":1.5,"g":0,"d":0.07},{"m":"b","r":10,"h":2.5,"g":0,"d":0.07},{"m":"b","r":10,"h":3.5,"g":0,"d":0.07},{"m":"b","r":10,"h":4.5,"g":0,"d":0.08},{"m":"b","r":10,"h":5.5,"g":0,"d":0.09},{"m":"b","r":10,"h":6.5,"g":0,"d":0.18},{"m":"b","r":10,"h":7.5,"g":0,"d":0.21},{"m":"b","r":10,"h":8.5,"g":0,"d":0.35},{"m":"b","r":10,"h":9.5,"g":0,"d":0.38},{"m":"b","r":10,"h":10.5,"g":0,"d":0.4},{"m":"b","r":10,"h":11.5,"g":0,"d":0.4},{"m":"b","r":10,"h":12.5,"g":0,"d":0.38},{"m":"b","r":10,"h":13.5,"g":0,"d":0.71},{"m":"b","r":10,"h":14.5,"g":0,"d":0.73},{"m":"b","r":10,"h":15.5,"g":0.56,"d":0.6},{"m":"b","r":10,"h":16.5,"g":1,"d":0.5},{"m":"b","r":10,"h":17.5,"g":0,"d":0.38},{"m":"b","r":10,"h":18.5,"g":0,"d":0.45},{"m":"b","r":10,"h":19.5,"g":0,"d":0.78},{"m":"b","r":10,"h":20.5,"g":0,"d":1},{"m":"b","r":10,"h":21.5,"g":0,"d":0.62},{"m":"b","r":10,"h":22.5,"g":0,"d":0.29},{"m":"b","r":10,"h":23.5,"g":0,"d":0.18},
{"m":"b","r":11,"h":0.5,"g":0,"d":0.06},{"m":"b","r":11,"h":1.5,"g":0,"d":0.06},{"m":"b","r":11,"h":2.5,"g":0,"d":0.06},{"m":"b","r":11,"h":3.5,"g":0,"d":0.06},{"m":"b","r":11,"h":4.5,"g":0,"d":0.06},{"m":"b","r":11,"h":5.5,"g":0,"d":0.06},{"m":"b","r":11,"h":6.5,"g":0,"d":0.06},{"m":"b","r":11,"h":7.5,"g":0,"d":0.08},{"m":"b","r":11,"h":8.5,"g":0,"d":0.08},{"m":"b","r":11,"h":9.5,"g":0,"d":0.11},{"m":"b","r":11,"h":10.5,"g":0,"d":0.12},{"m":"b","r":11,"h":11.5,"g":0,"d":0.13},{"m":"b","r":11,"h":12.5,"g":0,"d":0.14},{"m":"b","r":11,"h":13.5,"g":0,"d":0.16},{"m":"b","r":11,"h":14.5,"g":0.03,"d":0.16},{"m":"b","r":11,"h":15.5,"g":0.5,"d":0.19},{"m":"b","r":11,"h":16.5,"g":0.99,"d":0.2},{"m":"b","r":11,"h":17.5,"g":1,"d":0.23},{"m":"b","r":11,"h":18.5,"g":0,"d":0.34},{"m":"b","r":11,"h":19.5,"g":0,"d":0.53},{"m":"b","r":11,"h":20.5,"g":0,"d":1},{"m":"b","r":11,"h":21.5,"g":0,"d":0.36},{"m":"b","r":11,"h":22.5,"g":0,"d":0.17},{"m":"b","r":11,"h":23.5,"g":0,"d":0.1},
{"m":"b","r":12,"h":0.5,"g":0,"d":0.03},{"m":"b","r":12,"h":1.5,"g":0,"d":0.03},{"m":"b","r":12,"h":2.5,"g":0,"d":0.03},{"m":"b","r":12,"h":3.5,"g":0,"d":0.03},{"m":"b","r":12,"h":4.5,"g":0,"d":0.03},{"m":"b","r":12,"h":5.5,"g":0,"d":0.03},{"m":"b","r":12,"h":6.5,"g":0,"d":0.03},{"m":"b","r":12,"h":7.5,"g":0,"d":0.03},{"m":"b","r":12,"h":8.5,"g":0,"d":0.03},{"m":"b","r":12,"h":9.5,"g":0.03,"d":0.03},{"m":"b","r":12,"h":10.5,"g":0.4,"d":0.2},{"m":"b","r":12,"h":11.5,"g":0.33,"d":0.09},{"m":"b","r":12,"h":12.5,"g":0.01,"d":0.03},{"m":"b","r":12,"h":13.5,"g":0,"d":0.03},{"m":"b","r":12,"h":14.5,"g":0,"d":0.03},{"m":"b","r":12,"h":15.5,"g":0,"d":0.03},{"m":"b","r":12,"h":16.5,"g":0,"d":0.03},{"m":"b","r":12,"h":17.5,"g":0,"d":0.03},{"m":"b","r":12,"h":18.5,"g":0.03,"d":0.14},{"m":"b","r":12,"h":19.5,"g":1,"d":1},{"m":"b","r":12,"h":20.5,"g":0,"d":0.37},{"m":"b","r":12,"h":21.5,"g":0,"d":0.14},{"m":"b","r":12,"h":22.5,"g":0,"d":0.09},{"m":"b","r":12,"h":23.5,"g":0,"d":0.06},
{"m":"b","r":13,"h":0.5,"g":0,"d":0.12},{"m":"b","r":13,"h":1.5,"g":0,"d":0.12},{"m":"b","r":13,"h":2.5,"g":0,"d":0.12},{"m":"b","r":13,"h":3.5,"g":0,"d":0.1},{"m":"b","r":13,"h":4.5,"g":0,"d":0.1},{"m":"b","r":13,"h":5.5,"g":0,"d":0.12},{"m":"b","r":13,"h":6.5,"g":0,"d":0.12},{"m":"b","r":13,"h":7.5,"g":0,"d":0.12},{"m":"b","r":13,"h":8.5,"g":0,"d":0.12},{"m":"b","r":13,"h":9.5,"g":0,"d":0.12},{"m":"b","r":13,"h":10.5,"g":0,"d":0.12},{"m":"b","r":13,"h":11.5,"g":0,"d":0.12},{"m":"b","r":13,"h":12.5,"g":0,"d":0.12},{"m":"b","r":13,"h":13.5,"g":0,"d":0.12},{"m":"b","r":13,"h":14.5,"g":0,"d":0.12},{"m":"b","r":13,"h":15.5,"g":0,"d":0.12},{"m":"b","r":13,"h":16.5,"g":0.04,"d":0.1},{"m":"b","r":13,"h":17.5,"g":0.4,"d":0.49},{"m":"b","r":13,"h":18.5,"g":0.51,"d":1},{"m":"b","r":13,"h":19.5,"g":1,"d":0.54},{"m":"b","r":13,"h":20.5,"g":0,"d":0.4},{"m":"b","r":13,"h":21.5,"g":0,"d":0.23},{"m":"b","r":13,"h":22.5,"g":0,"d":0.15},{"m":"b","r":13,"h":23.5,"g":0,"d":0.1},
{"m":"b","r":14,"h":0.5,"g":0,"d":0.05},{"m":"b","r":14,"h":1.5,"g":0,"d":0.05},{"m":"b","r":14,"h":2.5,"g":0,"d":0.05},{"m":"b","r":14,"h":3.5,"g":0,"d":0.05},{"m":"b","r":14,"h":4.5,"g":0,"d":0.05},{"m":"b","r":14,"h":5.5,"g":0.02,"d":0.06},{"m":"b","r":14,"h":6.5,"g":0.03,"d":0.07},{"m":"b","r":14,"h":7.5,"g":0.07,"d":0.08},{"m":"b","r":14,"h":8.5,"g":0.11,"d":0.09},{"m":"b","r":14,"h":9.5,"g":0.15,"d":0.09},{"m":"b","r":14,"h":10.5,"g":0.02,"d":0.11},{"m":"b","r":14,"h":11.5,"g":0.2,"d":0.13},{"m":"b","r":14,"h":12.5,"g":0.22,"d":0.14},{"m":"b","r":14,"h":13.5,"g":0.22,"d":0.13},{"m":"b","r":14,"h":14.5,"g":0,"d":0.14},{"m":"b","r":14,"h":15.5,"g":0.24,"d":0.2},{"m":"b","r":14,"h":16.5,"g":0.24,"d":0.22},{"m":"b","r":14,"h":17.5,"g":0.24,"d":0.22},{"m":"b","r":14,"h":18.5,"g":0.41,"d":0.33},{"m":"b","r":14,"h":19.5,"g":0.85,"d":0.63},{"m":"b","r":14,"h":20.5,"g":1,"d":0.97},{"m":"b","r":14,"h":21.5,"g":0,"d":0.28},{"m":"b","r":14,"h":22.5,"g":0.17,"d":0.11},{"m":"b","r":14,"h":23.5,"g":0.09,"d":0.06},
{"m":"b","r":15,"h":0.5,"g":0,"d":0.13},{"m":"b","r":15,"h":1.5,"g":0,"d":0.14},{"m":"b","r":15,"h":2.5,"g":0,"d":0.08},{"m":"b","r":15,"h":3.5,"g":0,"d":0.04},{"m":"b","r":15,"h":4.5,"g":0.06,"d":0.05},{"m":"b","r":15,"h":5.5,"g":0.13,"d":0.11},{"m":"b","r":15,"h":6.5,"g":0.19,"d":0.17},{"m":"b","r":15,"h":7.5,"g":0.37,"d":0.21},{"m":"b","r":15,"h":8.5,"g":1,"d":0.34},{"m":"b","r":15,"h":9.5,"g":0,"d":0.45},{"m":"b","r":15,"h":10.5,"g":0,"d":0.47},{"m":"b","r":15,"h":11.5,"g":0,"d":0.45},{"m":"b","r":15,"h":12.5,"g":0,"d":0.4},{"m":"b","r":15,"h":13.5,"g":0,"d":0.84},{"m":"b","r":15,"h":14.5,"g":0,"d":0.9},{"m":"b","r":15,"h":15.5,"g":0,"d":0.6},{"m":"b","r":15,"h":16.5,"g":0,"d":0.5},{"m":"b","r":15,"h":17.5,"g":0,"d":0.35},{"m":"b","r":15,"h":18.5,"g":0,"d":0.51},{"m":"b","r":15,"h":19.5,"g":0,"d":0.79},{"m":"b","r":15,"h":20.5,"g":0,"d":1},{"m":"b","r":15,"h":21.5,"g":0,"d":0.73},{"m":"b","r":15,"h":22.5,"g":0,"d":0.34},{"m":"b","r":15,"h":23.5,"g":0,"d":0.19},
{"m":"b","r":16,"h":0.5,"g":0,"d":0.05},{"m":"b","r":16,"h":1.5,"g":0,"d":0.05},{"m":"b","r":16,"h":2.5,"g":0,"d":0.05},{"m":"b","r":16,"h":3.5,"g":0,"d":0.05},{"m":"b","r":16,"h":4.5,"g":0,"d":0.05},{"m":"b","r":16,"h":5.5,"g":0,"d":0.05},{"m":"b","r":16,"h":6.5,"g":0,"d":0.05},{"m":"b","r":16,"h":7.5,"g":0,"d":0.08},{"m":"b","r":16,"h":8.5,"g":1,"d":0.64},{"m":"b","r":16,"h":9.5,"g":0.81,"d":1},{"m":"b","r":16,"h":10.5,"g":0,"d":0.2},{"m":"b","r":16,"h":11.5,"g":0,"d":0.14},{"m":"b","r":16,"h":12.5,"g":0,"d":0.12},{"m":"b","r":16,"h":13.5,"g":0,"d":0.12},{"m":"b","r":16,"h":14.5,"g":0,"d":0.17},{"m":"b","r":16,"h":15.5,"g":0,"d":0.22},{"m":"b","r":16,"h":16.5,"g":0,"d":0.48},{"m":"b","r":16,"h":17.5,"g":0.81,"d":0.59},{"m":"b","r":16,"h":18.5,"g":0,"d":0.22},{"m":"b","r":16,"h":19.5,"g":0,"d":0.17},{"m":"b","r":16,"h":20.5,"g":0,"d":0.14},{"m":"b","r":16,"h":21.5,"g":0,"d":0.17},{"m":"b","r":16,"h":22.5,"g":0,"d":0.14},{"m":"b","r":16,"h":23.5,"g":0,"d":0.09},
{"m":"b","r":17,"h":0.5,"g":0,"d":0.03},{"m":"b","r":17,"h":1.5,"g":0,"d":0.03},{"m":"b","r":17,"h":2.5,"g":0,"d":0.03},{"m":"b","r":17,"h":3.5,"g":0,"d":0.03},{"m":"b","r":17,"h":4.5,"g":0,"d":0.03},{"m":"b","r":17,"h":5.5,"g":0,"d":0.03},{"m":"b","r":17,"h":6.5,"g":0.04,"d":0.04},{"m":"b","r":17,"h":7.5,"g":0.07,"d":0.05},{"m":"b","r":17,"h":8.5,"g":0.12,"d":0.07},{"m":"b","r":17,"h":9.5,"g":0.15,"d":0.08},{"m":"b","r":17,"h":10.5,"g":0.04,"d":0.08},{"m":"b","r":17,"h":11.5,"g":0.19,"d":0.1},{"m":"b","r":17,"h":12.5,"g":0.23,"d":0.13},{"m":"b","r":17,"h":13.5,"g":0.23,"d":0.12},{"m":"b","r":17,"h":14.5,"g":0.04,"d":0.1},{"m":"b","r":17,"h":15.5,"g":0.27,"d":0.18},{"m":"b","r":17,"h":16.5,"g":0.24,"d":0.21},{"m":"b","r":17,"h":17.5,"g":0.24,"d":0.23},{"m":"b","r":17,"h":18.5,"g":0.4,"d":0.38},{"m":"b","r":17,"h":19.5,"g":0.84,"d":0.65},{"m":"b","r":17,"h":20.5,"g":1,"d":0.93},{"m":"b","r":17,"h":21.5,"g":0,"d":0.27},{"m":"b","r":17,"h":22.5,"g":0.18,"d":0.1},{"m":"b","r":17,"h":23.5,"g":0.09,"d":0.07},
{"m":"b","r":18,"h":0.5,"g":0,"d":0.13},{"m":"b","r":18,"h":1.5,"g":0,"d":0.15},{"m":"b","r":18,"h":2.5,"g":0,"d":0.08},{"m":"b","r":18,"h":3.5,"g":0,"d":0.06},{"m":"b","r":18,"h":4.5,"g":0,"d":0.06},{"m":"b","r":18,"h":5.5,"g":0,"d":0.09},{"m":"b","r":18,"h":6.5,"g":0,"d":0.17},{"m":"b","r":18,"h":7.5,"g":0,"d":0.21},{"m":"b","r":18,"h":8.5,"g":0,"d":0.3},{"m":"b","r":18,"h":9.5,"g":0,"d":0.42},{"m":"b","r":18,"h":10.5,"g":1,"d":0.42},{"m":"b","r":18,"h":11.5,"g":0.74,"d":0.41},{"m":"b","r":18,"h":12.5,"g":0,"d":0.39},{"m":"b","r":18,"h":13.5,"g":0,"d":0.78},{"m":"b","r":18,"h":14.5,"g":0,"d":0.85},{"m":"b","r":18,"h":15.5,"g":0,"d":0.72},{"m":"b","r":18,"h":16.5,"g":0,"d":0.55},{"m":"b","r":18,"h":17.5,"g":0,"d":0.3},{"m":"b","r":18,"h":18.5,"g":0,"d":0.48},{"m":"b","r":18,"h":19.5,"g":0,"d":0.72},{"m":"b","r":18,"h":20.5,"g":0,"d":1},{"m":"b","r":18,"h":21.5,"g":0,"d":0.61},{"m":"b","r":18,"h":22.5,"g":0,"d":0.28},{"m":"b","r":18,"h":23.5,"g":0,"d":0.17},
{"m":"b","r":19,"h":0.5,"g":0,"d":0.03},{"m":"b","r":19,"h":1.5,"g":0,"d":0.03},{"m":"b","r":19,"h":2.5,"g":0,"d":0.03},{"m":"b","r":19,"h":3.5,"g":0,"d":0.03},{"m":"b","r":19,"h":4.5,"g":0,"d":0.03},{"m":"b","r":19,"h":5.5,"g":0,"d":0.03},{"m":"b","r":19,"h":6.5,"g":0,"d":0.03},{"m":"b","r":19,"h":7.5,"g":0,"d":0.03},{"m":"b","r":19,"h":8.5,"g":0,"d":0.04},{"m":"b","r":19,"h":9.5,"g":0.36,"d":0.15},{"m":"b","r":19,"h":10.5,"g":0.29,"d":0.23},{"m":"b","r":19,"h":11.5,"g":0.03,"d":0.07},{"m":"b","r":19,"h":12.5,"g":0,"d":0.03},{"m":"b","r":19,"h":13.5,"g":0,"d":0.03},{"m":"b","r":19,"h":14.5,"g":0,"d":0.03},{"m":"b","r":19,"h":15.5,"g":0.51,"d":0.03},{"m":"b","r":19,"h":16.5,"g":0,"d":0.03},{"m":"b","r":19,"h":17.5,"g":0.23,"d":0.07},{"m":"b","r":19,"h":18.5,"g":0.51,"d":0.23},{"m":"b","r":19,"h":19.5,"g":1,"d":0.97},{"m":"b","r":19,"h":20.5,"g":0,"d":0.29},{"m":"b","r":19,"h":21.5,"g":0,"d":0.09},{"m":"b","r":19,"h":22.5,"g":0,"d":0.07},{"m":"b","r":19,"h":23.5,"g":0,"d":0.04},
{"m":"b","r":20,"h":0.5,"g":0,"d":0.02},{"m":"b","r":20,"h":1.5,"g":0,"d":0.02},{"m":"b","r":20,"h":2.5,"g":0,"d":0.02},{"m":"b","r":20,"h":3.5,"g":0,"d":0.02},{"m":"b","r":20,"h":4.5,"g":0,"d":0.02},{"m":"b","r":20,"h":5.5,"g":0,"d":0.02},{"m":"b","r":20,"h":6.5,"g":0.01,"d":0.02},{"m":"b","r":20,"h":7.5,"g":0.04,"d":0.03},{"m":"b","r":20,"h":8.5,"g":0.02,"d":0.04},{"m":"b","r":20,"h":9.5,"g":0.04,"d":0.08},{"m":"b","r":20,"h":10.5,"g":0.04,"d":0.08},{"m":"b","r":20,"h":11.5,"g":0.22,"d":0.11},{"m":"b","r":20,"h":12.5,"g":0.27,"d":0.13},{"m":"b","r":20,"h":13.5,"g":0.27,"d":0.13},{"m":"b","r":20,"h":14.5,"g":0.06,"d":0.13},{"m":"b","r":20,"h":15.5,"g":0.3,"d":0.19},{"m":"b","r":20,"h":16.5,"g":0.28,"d":0.19},{"m":"b","r":20,"h":17.5,"g":0.28,"d":0.24},{"m":"b","r":20,"h":18.5,"g":0.46,"d":0.46},{"m":"b","r":20,"h":19.5,"g":1,"d":0.69},{"m":"b","r":20,"h":20.5,"g":0,"d":0.96},{"m":"b","r":20,"h":21.5,"g":0,"d":0.35},{"m":"b","r":20,"h":22.5,"g":0.19,"d":0.13},{"m":"b","r":20,"h":23.5,"g":0.1,"d":0.11}
]},
"hconcat": [
{"data": {"name": "all"}, "transform": [{"filter": "datum.m == 'a'"}],
 "title": {"text": "(a) Masked NTF", "orient": "bottom", "anchor": "middle", "font": "Liberation Serif", "fontSize": 23.5, "fontWeight": "normal", "color": "black", "offset": 24},
 "spacing": 0,
 "vconcat": [
 {"facet": {"row": {"field": "r", "type": "ordinal", "header": null}},
 "spacing": 0.4,
 "bounds": "flush",
 "spec": {"width": 609, "height": 60, "layer": [
  {"transform": [{"filter": "isValid(datum.x0)"}], "mark": {"type": "rect", "fill": "#e1e1f9", "stroke": "#9c9cee", "strokeWidth": 1.5}, "encoding": {"x": {"field": "x0", "type": "quantitative", "scale": {"domain": [0, 24], "nice": false, "zero": false}, "axis": {"values": [0,1,2,3,4,5,6,7,8,9,10,11,12,13,14,15,16,17,18,19,20,21,22,23,24], "title": null, "labels": false, "grid": true, "gridOpacity": {"condition": {"test": "datum.value == 0 || datum.value == 24", "value": 0}, "value": 1}}}, "x2": {"field": "x1"}, "y": {"datum": 0, "type": "quantitative", "scale": {"domain": [0, 2]}, "axis": null}, "y2": {"datum": 1}}},
  {"transform": [{"filter": "isValid(datum.d)"}], "mark": {"type": "line", "color": "black", "strokeWidth": 1.5, "strokeDash": [1.5, 4.5], "clip": true}, "encoding": {"x": {"field": "h", "type": "quantitative", "scale": {"domain": [0, 24]}}, "y": {"field": "d", "type": "quantitative", "scale": {"domain": [0, 2]}}}},
  {"transform": [{"filter": "isValid(datum.g)"}], "mark": {"type": "line", "color": "#008000", "strokeWidth": 1.5, "clip": true}, "encoding": {"x": {"field": "h", "type": "quantitative", "scale": {"domain": [0, 24]}}, "y": {"field": "g", "type": "quantitative", "scale": {"domain": [0, 2]}}}},
  {"transform": [{"filter": "isValid(datum.t)"}], "mark": {"type": "rule", "color": "#d4d4d4", "strokeWidth": 2.5}, "encoding": {"y": {"datum": 0, "type": "quantitative", "scale": {"domain": [0, 2]}}}},
  {"transform": [{"filter": "isValid(datum.t)"}], "mark": {"type": "text", "align": "left", "baseline": "alphabetic", "font": "DejaVu Sans", "fontSize": 20.9, "dx": 4, "dy": 20, "color": "black"}, "encoding": {"x": {"datum": 0, "type": "quantitative"}, "y": {"datum": 2, "type": "quantitative"}, "text": {"field": "t"}}},
  {"transform": [{"filter": "isValid(datum.t)"}], "mark": {"type": "text", "align": "left", "baseline": "alphabetic", "font": "DejaVu Sans", "fontSize": 13.8, "dy": 20, "color": "black"}, "encoding": {"x": {"datum": 20, "type": "quantitative"}, "y": {"datum": 2, "type": "quantitative"}, "text": {"field": "s"}}}
 ]}},
 {"width": 609, "height": 1, "view": {"stroke": null}, "transform": [{"filter": "isValid(datum.x0)"}], "mark": {"type": "tick", "opacity": 0}, "encoding": {"x": {"field": "x0", "type": "quantitative", "scale": {"domain": [0, 24], "nice": false, "zero": false}, "axis": {"values": [0,1,2,3,4,5,6,7,8,9,10,11,12,13,14,15,16,17,18,19,20,21,22,23,24], "title": null, "grid": false, "labels": true, "labelOverlap": false, "labelFlush": false, "labelPadding": 6}}}}
 ]
},
{"data": {"name": "all"}, "transform": [{"filter": "datum.m == 'b'"}],
 "title": {"text": "(b) Agglomerative NMF", "orient": "bottom", "anchor": "middle", "font": "Liberation Serif", "fontSize": 23.5, "fontWeight": "normal", "color": "black", "offset": 24},
 "spacing": 0,
 "vconcat": [
 {"facet": {"row": {"field": "r", "type": "ordinal", "header": null}},
 "spacing": 0.4,
 "bounds": "flush",
 "spec": {"width": 609, "height": 60, "layer": [
  {"transform": [{"filter": "isValid(datum.x0)"}], "mark": {"type": "rect", "fill": "#e1e1f9", "stroke": "#9c9cee", "strokeWidth": 1.5}, "encoding": {"x": {"field": "x0", "type": "quantitative", "scale": {"domain": [0, 24], "nice": false, "zero": false}, "axis": {"values": [0,1,2,3,4,5,6,7,8,9,10,11,12,13,14,15,16,17,18,19,20,21,22,23,24], "title": null, "labels": false, "grid": true, "gridOpacity": {"condition": {"test": "datum.value == 0 || datum.value == 24", "value": 0}, "value": 1}}}, "x2": {"field": "x1"}, "y": {"datum": 0, "type": "quantitative", "scale": {"domain": [0, 2]}, "axis": null}, "y2": {"datum": 1}}},
  {"transform": [{"filter": "isValid(datum.d)"}], "mark": {"type": "line", "color": "black", "strokeWidth": 1.5, "strokeDash": [1.5, 4.5], "clip": true}, "encoding": {"x": {"field": "h", "type": "quantitative", "scale": {"domain": [0, 24]}}, "y": {"field": "d", "type": "quantitative", "scale": {"domain": [0, 2]}}}},
  {"transform": [{"filter": "isValid(datum.g)"}], "mark": {"type": "line", "color": "#008000", "strokeWidth": 1.5, "clip": true}, "encoding": {"x": {"field": "h", "type": "quantitative", "scale": {"domain": [0, 24]}}, "y": {"field": "g", "type": "quantitative", "scale": {"domain": [0, 2]}}}},
  {"transform": [{"filter": "isValid(datum.t)"}], "mark": {"type": "rule", "color": "#d4d4d4", "strokeWidth": 2.5}, "encoding": {"y": {"datum": 0, "type": "quantitative", "scale": {"domain": [0, 2]}}}},
  {"transform": [{"filter": "isValid(datum.t)"}], "mark": {"type": "text", "align": "left", "baseline": "alphabetic", "font": "DejaVu Sans", "fontSize": 20.9, "dx": 4, "dy": 20, "color": "black"}, "encoding": {"x": {"datum": 0, "type": "quantitative"}, "y": {"datum": 2, "type": "quantitative"}, "text": {"field": "t"}}},
  {"transform": [{"filter": "isValid(datum.t)"}], "mark": {"type": "text", "align": "left", "baseline": "alphabetic", "font": "DejaVu Sans", "fontSize": 13.8, "dy": 20, "color": "black"}, "encoding": {"x": {"datum": 20, "type": "quantitative"}, "y": {"datum": 2, "type": "quantitative"}, "text": {"field": "s"}}}
 ]}},
 {"width": 609, "height": 1, "view": {"stroke": null}, "transform": [{"filter": "isValid(datum.x0)"}], "mark": {"type": "tick", "opacity": 0}, "encoding": {"x": {"field": "x0", "type": "quantitative", "scale": {"domain": [0, 24], "nice": false, "zero": false}, "axis": {"values": [0,1,2,3,4,5,6,7,8,9,10,11,12,13,14,15,16,17,18,19,20,21,22,23,24], "title": null, "grid": false, "labels": true, "labelOverlap": false, "labelFlush": false, "labelPadding": 6}}}}
 ]
}
]
}
